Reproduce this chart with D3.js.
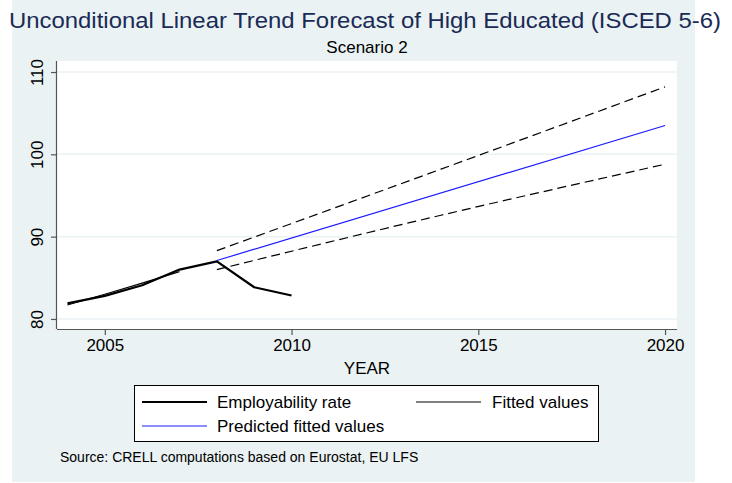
<!DOCTYPE html>
<html>
<head>
<meta charset="utf-8">
<script src="https://cdn.jsdelivr.net/npm/d3@7"></script>
<style>
  body { margin: 0; background: #fff; }
  text { font-family: "Liberation Sans", Arial, sans-serif; }
</style>
</head>
<body>
<div id="chart"></div>
<script>
// data
var years = [2004, 2005, 2006, 2007, 2008, 2009, 2010];
var employability = [81.9, 82.8, 84.1, 86.0, 87.0, 83.85, 82.85];

var fittedYears = [2004, 2005, 2006, 2007];
var fitted = [81.7, 83.0, 84.35, 85.75];

var predYears = [2008, 2020];
var predicted = [87.1, 103.5];

var upperYears = [2008, 2014, 2020];
var upper = [88.3, 98.2, 108.2];
var lowerYears = [2008, 2014, 2020];
var lower = [86.0, 92.6, 98.8];

var xTicks = [2005, 2010, 2015, 2020];
var yTicks = [80, 90, 100, 110];

var width = 732, height = 483;
var margin = {top: 61, right: 55, bottom: 154, left: 57};

var svg = d3.select("#chart")
  .append("svg")
  .attr("width", width)
  .attr("height", height);

// outer grey-blue background
svg.append("rect")
  .attr("x", 12).attr("y", 0)
  .attr("width", 683).attr("height", 482)
  .attr("fill", "#eaf2f3");

var x = d3.scaleLinear()
  .domain([2003.72, 2020.32])
  .range([margin.left, width - margin.right]);
var y = d3.scaleLinear()
  .domain([78.78, 111.34])
  .range([height - margin.bottom, margin.top]);

// plot region
svg.append("rect")
  .attr("x", x.range()[0]).attr("y", y.range()[1])
  .attr("width", x.range()[1] - x.range()[0])
  .attr("height", y.range()[0] - y.range()[1])
  .attr("fill", "#fff");

// gridlines
svg.append("g")
  .selectAll("line")
  .data(yTicks)
  .enter().append("line")
  .attr("x1", x.range()[0]).attr("x2", x.range()[1])
  .attr("y1", function(d) { return y(d); })
  .attr("y2", function(d) { return y(d); })
  .attr("stroke", "#eaf2f3")
  .attr("stroke-width", 1.5);

// axes
var xAxis = svg.append("g")
  .attr("transform", "translate(0," + y.range()[0] + ")")
  .call(d3.axisBottom(x).tickValues(xTicks).tickFormat(d3.format("d")).tickSize(6).tickPadding(4));
var yAxis = svg.append("g")
  .attr("transform", "translate(" + x.range()[0] + ",0)")
  .call(d3.axisLeft(y).tickValues(yTicks).tickSize(6));

[xAxis, yAxis].forEach(function(a) {
  a.select(".domain").attr("stroke", "#555").attr("stroke-width", 1.2);
  a.selectAll(".tick line").attr("stroke", "#555").attr("stroke-width", 1.2);
  a.selectAll("text")
    .attr("fill", "#000")
    .style("font-size", "17px")
    .style("font-family", "'Liberation Sans', Arial, sans-serif");
});
// domain as plain line (no end ticks)
xAxis.select(".domain").attr("d", "M" + x.range()[0] + ",0.5H" + x.range()[1]);
yAxis.select(".domain").attr("d", "M-0.5," + y.range()[0] + "V" + y.range()[1]);

yAxis.selectAll(".tick text")
  .attr("x", null).attr("dy", null)
  .attr("text-anchor", "middle")
  .attr("transform", "translate(-14,0) rotate(-90)");

// lines
var line = d3.line()
  .x(function(d) { return x(d[0]); })
  .y(function(d) { return y(d[1]); })
  .curve(d3.curveMonotoneX);

function pairs(xs, ys) { return xs.map(function(v, i) { return [v, ys[i]]; }); }

svg.append("path")
  .datum(pairs(upperYears, upper))
  .attr("d", line).attr("fill", "none")
  .attr("stroke", "#000").attr("stroke-width", 1.2)
  .attr("stroke-dasharray", "9,5");
svg.append("path")
  .datum(pairs(lowerYears, lower))
  .attr("d", line).attr("fill", "none")
  .attr("stroke", "#000").attr("stroke-width", 1.2)
  .attr("stroke-dasharray", "9,5");

var straight = d3.line()
  .x(function(d) { return x(d[0]); })
  .y(function(d) { return y(d[1]); });

svg.append("path")
  .datum(pairs(predYears, predicted))
  .attr("d", straight).attr("fill", "none")
  .attr("stroke", "#1a1aff").attr("stroke-width", 1.2);

svg.append("path")
  .datum(pairs(years, employability))
  .attr("d", straight).attr("fill", "none")
  .attr("stroke", "#000").attr("stroke-width", 2.2)
  .attr("stroke-linejoin", "round");

svg.append("path")
  .datum(pairs(fittedYears, fitted))
  .attr("d", straight).attr("fill", "none")
  .attr("stroke", "#000").attr("stroke-width", 1.2);

// titles
var cx = (x.range()[0] + x.range()[1]) / 2;
svg.append("text")
  .attr("x", cx - 2).attr("y", 28)
  .attr("text-anchor", "middle")
  .attr("fill", "#1a2a55")
  .attr("textLength", 712)
  .attr("lengthAdjust", "spacingAndGlyphs")
  .style("font-size", "22px")
  .text("Unconditional Linear Trend Forecast of High Educated (ISCED 5-6)");
svg.append("text")
  .attr("x", cx).attr("y", 53)
  .attr("text-anchor", "middle")
  .style("font-size", "17px")
  .text("Scenario 2");
svg.append("text")
  .attr("x", cx).attr("y", 374)
  .attr("text-anchor", "middle")
  .style("font-size", "17px")
  .text("YEAR");

// legend
var legend = svg.append("g");
legend.append("rect")
  .attr("x", 134.5).attr("y", 385.5)
  .attr("width", 464).attr("height", 56)
  .attr("fill", "#fff").attr("stroke", "#000").attr("stroke-width", 1);

var legendItems = [
  {label: "Employability rate", color: "#000", w: 2.2, lx: 142, tx: 217, ly: 402},
  {label: "Fitted values", color: "#000", w: 1.2, lx: 416, tx: 492, ly: 402},
  {label: "Predicted fitted values", color: "#1a1aff", w: 1.2, lx: 142, tx: 217, ly: 426}
];
legendItems.forEach(function(d) {
  legend.append("line")
    .attr("x1", d.lx).attr("x2", d.lx + 65)
    .attr("y1", d.ly).attr("y2", d.ly)
    .attr("stroke", d.color).attr("stroke-width", d.w);
  legend.append("text")
    .attr("x", d.tx).attr("y", d.ly + 6)
    .style("font-size", "17px")
    .text(d.label);
});

svg.append("text")
  .attr("x", 60).attr("y", 462)
  .style("font-size", "14px")
  .text("Source: CRELL computations based on Eurostat, EU LFS");
</script>
</body>
</html>
